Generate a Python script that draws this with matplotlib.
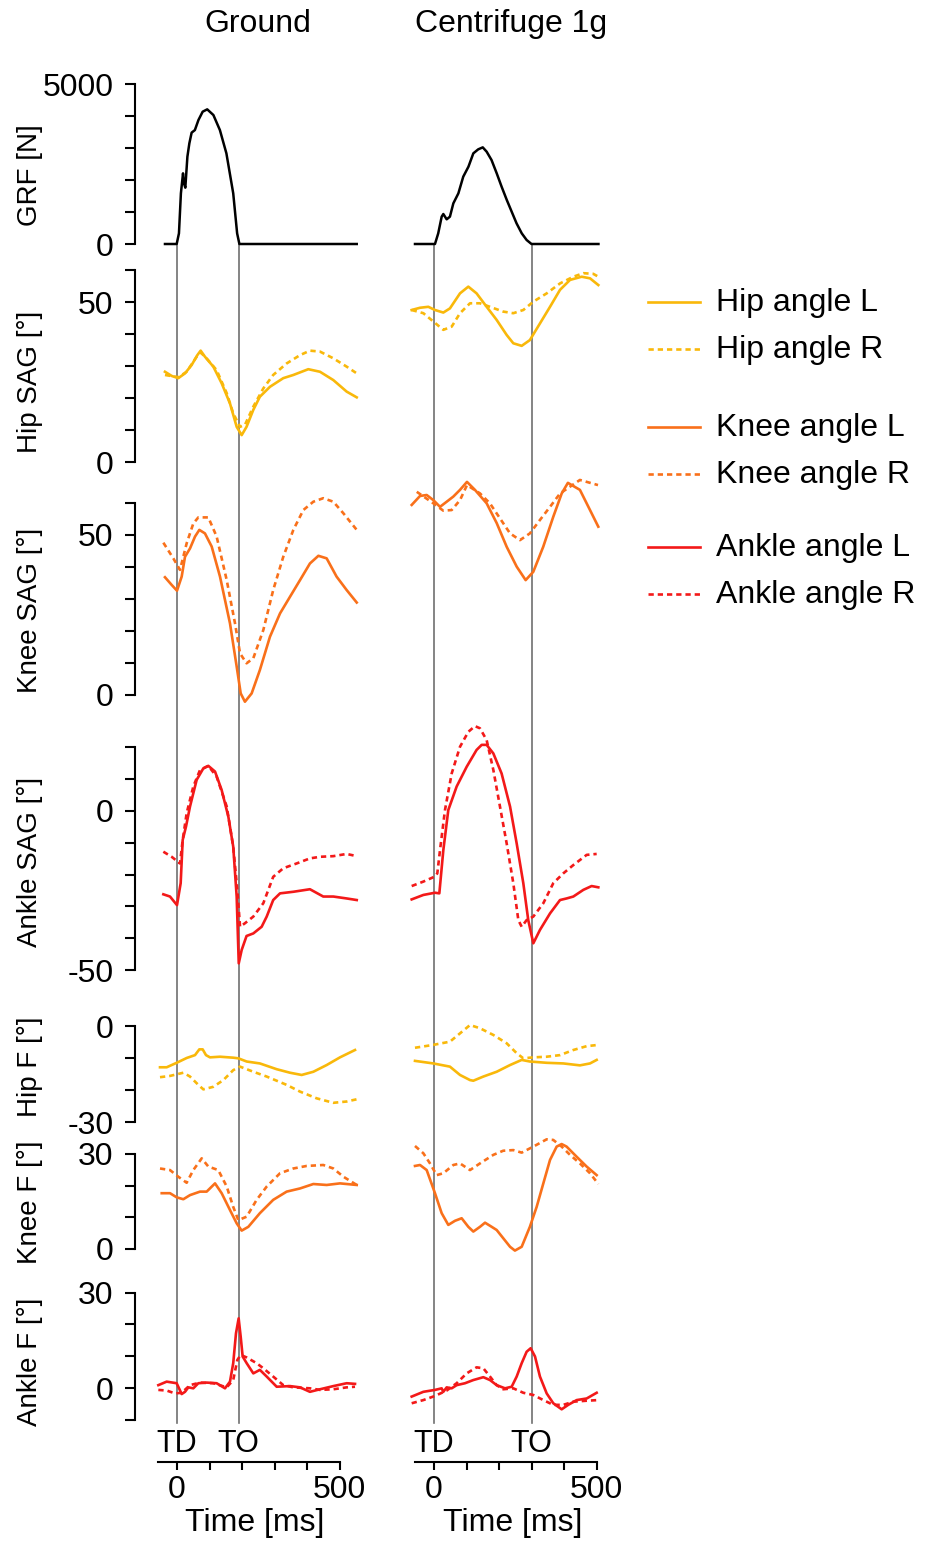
import numpy as np
import matplotlib
matplotlib.use("Agg")
import matplotlib.pyplot as plt
from matplotlib.lines import Line2D
from matplotlib.transforms import blended_transform_factory

plt.rcParams['font.family'] = ['Liberation Sans', 'DejaVu Sans']

# ---------------- data (time in ms) ----------------
TD = 0
TO_ground = 190
TO_centri = 300

# GRF [N]
grf_g_t = [-37, -1, 6, 12, 18.5, 21.5, 25.6, 32, 38, 45, 55, 66, 79, 93, 112, 132, 152, 173, 185, 192, 553]
grf_g_v = [0, 0, 333, 1583, 2208, 1895, 1760, 2730, 3145, 3480, 3560, 3875, 4135, 4208, 4030, 3560, 2833, 1583, 333, 0, 0]
grf_c_t = [-58.5, 3, 13, 23.6, 28.7, 39, 49, 59.5, 75, 90, 106, 121, 136, 150, 162, 177, 193, 208, 224, 239, 254, 270, 285, 300, 506]
grf_c_v = [0, 0, 333, 854, 937, 771, 854, 1270, 1583, 2104, 2416, 2833, 2958, 3020, 2885, 2625, 2208, 1792, 1375, 1010, 646, 333, 125, 0, 0]

# Hip sagittal [deg]
hipS_gL_t = [-37, -16.4, 4, 24.6, 45, 62.6, 72.8, 86, 111.8, 137.4, 163, 183.6, 199, 214, 234.8, 255, 286, 327, 358, 404, 440, 481, 522, 553]
hipS_gL_v = [28.2, 26.9, 26.2, 27.7, 30.3, 33.4, 34.8, 32.9, 29.8, 24.6, 18.3, 11.0, 8.4, 11.0, 16.3, 20.4, 23.5, 26.2, 27.2, 29.0, 28.2, 25.6, 22.0, 20.2]
hipS_gR_t = [-37, 4, 29.7, 60.5, 72.8, 91, 122, 153, 173, 194, 209, 234.8, 265.6, 296, 337.4, 378.5, 409, 440, 481, 522, 553]
hipS_gR_v = [27.2, 26.5, 28.2, 32.9, 34.2, 32.4, 28.7, 21.5, 15.2, 11.0, 11.6, 17.3, 23.0, 27.2, 30.8, 33.4, 34.8, 34.5, 32.4, 29.8, 27.7]
hipS_cL_t = [-68.7, -43, -17.4, 3, 28.7, 49, 80, 105.6, 131, 162, 192.8, 223.6, 244, 269.8, 295, 326, 357, 387.7, 418.5, 454.4, 480, 505.6]
hipS_cL_v = [47.5, 48.2, 48.5, 47.5, 46.7, 48.0, 52.7, 54.8, 52.7, 48.5, 44.4, 39.7, 37.1, 36.3, 38.1, 43.3, 48.5, 53.8, 56.9, 57.9, 57.4, 55.3]
hipS_cR_t = [-68.7, -32.8, -2, 28.7, 54.4, 80, 110.8, 141.5, 172, 213, 244, 274.8, 305.6, 346.7, 387.7, 428.7, 459.5, 490, 505.6]
hipS_cR_v = [47.5, 46.5, 43.9, 41.3, 42.3, 46.5, 49.6, 49.6, 48.5, 47.0, 46.5, 47.5, 50.1, 52.7, 55.8, 57.9, 59.0, 58.8, 57.9]

# Knee sagittal [deg]
kneeS_gL_t = [-37, -16.4, 0, 14.4, 24.6, 40, 55.4, 68.7, 86, 106.7, 132.3, 163, 183.6, 196, 209, 229.7, 255, 286, 317, 347.7, 378.5, 409, 435, 460.5, 491, 522, 553]
kneeS_gL_v = [36.8, 34.4, 32.6, 37.0, 43.2, 45.8, 49.5, 51.6, 50.5, 46.4, 37.0, 22.4, 8.9, 0.5, -2.1, 0.5, 7.8, 18.2, 25.5, 30.7, 35.9, 41.1, 43.5, 42.7, 37.0, 32.8, 28.9]
kneeS_gR_t = [-42, -11.3, 9.2, 29.7, 50.2, 65.6, 96.4, 122, 153, 178.5, 194, 214, 234.8, 265.6, 296, 327, 358, 388.7, 419.5, 450, 481, 511.8, 553]
kneeS_gR_v = [47.6, 42.7, 39.1, 47.4, 53.6, 55.5, 55.5, 49.5, 35.9, 22.4, 13.0, 9.9, 11.5, 20.3, 32.8, 43.2, 51.6, 57.8, 60.4, 61.5, 60.4, 56.8, 51.6]
kneeS_cL_t = [-68.6, -43, -22.5, -2, 18.5, 39, 59.4, 80, 101.5, 126, 162, 193, 223.7, 254.5, 282, 305.5, 336, 367, 393, 412, 449, 480, 505.5]
kneeS_cL_v = [59.4, 62.2, 62.5, 60.9, 58.8, 60.4, 62.0, 64.1, 66.6, 64.1, 59.9, 53.7, 46.3, 40.1, 35.9, 38.5, 46.3, 55.7, 63.0, 66.3, 64.1, 57.8, 52.6]
kneeS_cR_t = [-53, -2, 28.6, 54.5, 80, 101.5, 141.5, 172, 203, 234, 264.6, 295, 326, 357, 388, 449, 504.6]
kneeS_cR_v = [63.5, 59.9, 57.6, 57.8, 60.9, 65.6, 63.0, 59.9, 55.2, 50.5, 48.4, 50.5, 54.7, 58.8, 63.0, 67.2, 65.6]

# Ankle sagittal [deg]
ankS_gL_t = [-42, -21.5, 0, 11.3, 17.5, 27.7, 40, 60.5, 81, 96.4, 117, 137.4, 158, 173, 183.6, 190, 199, 214, 234.8, 260.5, 276, 296, 317, 358, 409, 450, 481, 522, 553]
ankS_gL_v = [-26.2, -26.9, -29.6, -22.7, -9.1, -4.9, 1.4, 9.8, 13.4, 14.2, 12.4, 6.6, -1.8, -11.2, -26.9, -47.9, -43.7, -39.3, -38.5, -36.4, -33.2, -28.0, -25.9, -25.4, -24.6, -26.9, -26.9, -27.5, -28.0]
ankS_gR_t = [-42, -16.4, 9.2, 17.5, 29.7, 50.2, 70.8, 96.4, 122, 153, 173, 185.6, 194, 209, 234.8, 265.6, 296, 327, 368, 409, 440, 481, 522, 553]
ankS_gR_v = [-12.8, -14.4, -16.5, -9.1, -0.7, 7.7, 12.9, 14.2, 10.8, 1.4, -11.2, -24.8, -36.4, -35.3, -33.2, -29.0, -20.7, -18.0, -16.5, -14.9, -14.4, -14.2, -13.5, -14.2]
ankS_cL_t = [-68.7, -32.8, 3, 16.4, 28.7, 44, 69.7, 100.5, 131, 146.7, 162, 182.6, 208, 234, 254.4, 274.8, 290, 305.6, 326, 357, 387.7, 408, 428.7, 459.5, 485, 505.6]
ankS_cL_v = [-27.8, -26.4, -25.7, -25.9, -12.3, 0.3, 7.7, 13.9, 19.2, 20.8, 20.8, 18.1, 11.8, 1.4, -10.2, -22.7, -34.3, -41.6, -37.4, -32.2, -28.0, -27.5, -26.9, -24.8, -23.6, -24.0]
ankS_cR_t = [-68.7, -32.8, 3, 10.2, 18.5, 33.8, 54.4, 80, 105.6, 126, 141.5, 162, 182.6, 203, 223.6, 244, 259.5, 269.8, 285, 305.6, 336.4, 367, 398, 428.7, 469.7, 500.5]
ankS_cR_v = [-23.6, -22.2, -20.6, -19.6, -12.3, 0.3, 11.8, 20.2, 24.9, 26.7, 26.0, 22.3, 12.9, 1.4, -10.2, -22.7, -34.3, -36.4, -34.3, -33.2, -29.0, -22.7, -19.6, -17.0, -13.8, -13.5]

# Hip frontal [deg]
hipF_gL_t = [-52.3, -31.8, -1, 29.7, 55.4, 68.7, 79, 89.2, 101.5, 132.3, 173, 188.7, 214.4, 255, 306.7, 347.7, 383.6, 419.5, 460.5, 501.5, 547.7]
hipF_gL_v = [-12.9, -12.9, -11.5, -10.0, -9.1, -7.3, -7.3, -9.1, -9.8, -9.6, -9.9, -10.1, -11.1, -11.7, -13.5, -14.6, -15.3, -14.3, -12.2, -9.8, -7.5]
hipF_gR_t = [-52.3, -21.5, 19.5, 40, 65.6, 81, 111.8, 142.6, 173, 194, 234.8, 276, 337.4, 378.5, 429.7, 481, 522, 553]
hipF_gR_v = [-16.0, -15.6, -14.6, -15.8, -18.4, -19.8, -19.0, -16.9, -13.8, -12.7, -14.3, -15.8, -18.4, -20.5, -22.6, -24.0, -23.6, -22.9]
hipF_cL_t = [-58.5, -2, 49, 80, 110.8, 121, 151.8, 192.8, 234, 269.8, 295, 346.7, 398, 449, 480, 500.5]
hipF_cL_v = [-10.9, -11.7, -12.7, -15.3, -16.9, -17.1, -15.8, -14.3, -12.2, -10.6, -11.1, -11.5, -11.7, -12.3, -11.7, -10.6]
hipF_cR_t = [-58.5, -2, 49, 80, 110.8, 141.5, 182.6, 223.6, 254.4, 274.8, 305.6, 346.7, 387.7, 428.7, 469.7, 505.6]
hipF_cR_v = [-6.8, -5.9, -4.9, -2.3, 0.3, -0.7, -2.8, -5.4, -8.5, -10.1, -9.8, -9.6, -9.1, -7.5, -6.3, -5.9]

# Knee frontal [deg]
kneeF_gL_t = [-47, -21.5, -1, 19.5, 40, 70.8, 91.3, 117, 137.4, 163, 183.6, 199, 219.5, 255, 296, 337.4, 378.5, 419.5, 460.5, 501.5, 553]
kneeF_gL_v = [17.6, 17.6, 16.3, 15.7, 17.0, 18.1, 18.1, 20.7, 17.6, 12.3, 8.1, 5.8, 7.0, 11.3, 15.5, 18.1, 19.1, 20.5, 20.2, 20.7, 20.2]
kneeF_gR_t = [-52.3, -21.5, 4, 29.7, 50.2, 76, 96.4, 127, 153, 173, 188.7, 214.4, 245, 276, 317, 358, 399, 450, 481, 512, 553]
kneeF_gR_v = [25.4, 24.9, 22.8, 20.9, 24.9, 28.6, 26.0, 24.9, 19.7, 13.3, 9.1, 10.2, 15.5, 19.7, 23.9, 25.4, 26.2, 26.5, 25.4, 22.8, 20.2]
kneeF_cL_t = [-58.5, -43, -22.5, 3, 23.6, 44, 64.6, 85.1, 105.6, 121, 141.5, 157, 177.4, 192.8, 213, 234, 249, 269.8, 295, 315.9, 336.4, 357, 377.4, 392.8, 408, 439, 469.7, 500.5]
kneeF_cL_v = [26.2, 26.5, 24.9, 17.6, 11.3, 7.6, 8.9, 9.7, 7.0, 5.5, 7.0, 8.3, 7.0, 6.0, 3.4, 0.7, -0.5, 0.7, 7.0, 13.3, 20.7, 28.1, 32.3, 33.1, 32.3, 29.1, 26.0, 23.3]
kneeF_cR_t = [-58.5, -32.8, -12.3, 8.2, 28.7, 59.5, 80, 110.8, 141.5, 182.6, 213, 244, 269.8, 305.6, 346.7, 367, 392.8, 418.5, 449, 480, 505.6]
kneeF_cR_v = [32.5, 30.2, 27.0, 23.3, 23.9, 26.5, 27.0, 24.9, 27.0, 29.7, 31.0, 31.2, 30.4, 32.3, 34.6, 34.4, 32.3, 29.7, 27.0, 23.9, 20.5]

# Ankle frontal [deg]
ankF_gL_t = [-57.4, -31.8, -1, 14.4, 24.6, 34.9, 50.2, 65.6, 91.3, 122, 147.7, 163, 173, 181.5, 189.7, 196, 202, 214.4, 234.8, 255, 276, 306.7, 347.7, 378.5, 409, 440, 481, 522, 547.7]
ankF_gL_v = [0.9, 2.0, 1.5, -1.9, -1.2, 0.2, -0.1, 1.5, 1.7, 1.5, -0.1, 2.0, 7.8, 17.2, 21.9, 16.1, 9.9, 7.8, 4.6, 5.7, 3.6, 0.4, 0.6, 0.2, -1.2, -0.4, 0.6, 1.5, 1.3]
ankF_gR_t = [-57.4, -31.8, -6.2, 14.4, 40, 70.8, 111.8, 153, 173, 185.6, 196, 214.4, 245, 265.6, 296, 327, 358, 409, 440, 481, 522, 547.7]
ankF_gR_v = [-0.6, -0.8, -1.7, -1.5, 0.9, 1.7, 1.5, 0.2, 2.5, 8.8, 10.4, 9.6, 7.8, 6.2, 3.6, 0.9, 0.2, -0.1, -0.6, -0.4, 0.2, 0.4]
ankF_cL_t = [-68.7, -32.8, 3, 23.6, 28.7, 39, 54.4, 69.7, 95.4, 121, 151.8, 172.3, 192.8, 218.5, 239, 254.4, 269.8, 285, 297.4, 310.8, 326, 346.7, 367, 392.8, 413, 439, 469.7, 500.5]
ankF_cL_v = [-2.7, -1.2, -0.6, -0.1, -1.2, 0.2, -0.1, 0.9, 1.5, 2.5, 3.4, 2.5, 0.9, -0.1, 0.4, 3.6, 7.8, 11.4, 12.5, 9.9, 3.6, -1.7, -4.8, -6.7, -5.3, -3.8, -3.3, -1.5]
ankF_cR_t = [-68.7, -32.8, 3, 39, 69.7, 100.5, 131, 151.8, 172.3, 192.8, 213, 244, 274.8, 305.6, 336.4, 367, 398, 428.7, 469.7, 505.6]
ankF_cR_v = [-4.8, -3.8, -2.5, -0.8, 1.5, 4.6, 6.5, 6.2, 3.6, 0.9, -0.4, -0.1, -1.5, -2.2, -3.8, -5.3, -5.3, -4.3, -4.0, -3.8]

# ---------------- styling ----------------
W, H = 930, 1542
FS = 23        # tick labels, legend, titles
FS_YLAB = 20   # y axis labels
HIP_C = '#F9B80A'
KNEE_C = '#F9701A'
ANK_C = '#F31919'
LW = 1.9
DASH = (2.0, 1.5)

fig = plt.figure(figsize=(W / 100, H / 100), dpi=100)

COLS = {
    'g': dict(x0=135, x1=370, zero=177),
    'c': dict(x0=400, x1=620, zero=434),
}
XS = 0.325  # px per ms


def make_ax(col, zero_px, scale, ylo, yhi):
    c = COLS[col]
    top = zero_px - yhi * scale
    bot = zero_px - ylo * scale
    ax = fig.add_axes([c['x0'] / W, 1 - bot / H, (c['x1'] - c['x0']) / W, (bot - top) / H])
    ax.set_facecolor('none')
    ax.set_ylim(ylo, yhi)
    ax.set_xlim((c['x0'] - c['zero']) / XS, (c['x1'] - c['zero']) / XS)
    for s in ['top', 'right', 'bottom']:
        ax.spines[s].set_visible(False)
    ax.set_xticks([])
    return ax


def style_y(ax, lo, hi, step, labels):
    ax.spines['left'].set_bounds(lo, hi)
    ax.spines['left'].set_linewidth(1.5)
    ticks = np.arange(lo, hi + step / 2, step)
    ax.set_yticks(ticks)
    ax.set_yticklabels([labels.get(int(t), '') for t in ticks])
    ax.tick_params(axis='y', direction='out', length=7.5, width=1.5, pad=8, labelsize=FS)


rows = [
    # name, zero_px, scale, ylim, spine bounds, step, labels, ylabel, ylabel_y
    ('grf', 244, 0.032, (-250, 5100), (0, 5000), 1000, {0: '0', 5000: '5000'}, 'GRF [N]', 175),
    ('hipS', 462, 3.2, (-3, 62), (0, 60), 10, {0: '0', 50: '50'}, 'Hip SAG [°]', 382),
    ('kneeS', 695, 3.2, (-4, 68), (0, 60), 10, {0: '0', 50: '50'}, 'Knee SAG [°]', 610),
    ('ankS', 811, 3.18, (-52, 28), (-50, 20), 10, {-50: '-50', 0: '0'}, 'Ankle SAG [°]', 862),
    ('hipF', 1026, 3.2, (-31, 2), (-30, 0), 10, {-30: '-30', 0: '0'}, 'Hip F [°]', 1067),
    ('kneeF', 1249, 3.17, (-2, 36), (0, 30), 10, {0: '0', 30: '30'}, 'Knee F [°]', 1202),
    ('ankF', 1388, 3.18, (-10, 30), (-10, 30), 10, {0: '0', 30: '30'}, 'Ankle F [°]', 1362),
]

series = {
    'grf': [('k', '-', grf_g_t, grf_g_v, grf_c_t, grf_c_v)],
    'hipS': [(HIP_C, '-', hipS_gL_t, hipS_gL_v, hipS_cL_t, hipS_cL_v),
             (HIP_C, '--', hipS_gR_t, hipS_gR_v, hipS_cR_t, hipS_cR_v)],
    'kneeS': [(KNEE_C, '-', kneeS_gL_t, kneeS_gL_v, kneeS_cL_t, kneeS_cL_v),
              (KNEE_C, '--', kneeS_gR_t, kneeS_gR_v, kneeS_cR_t, kneeS_cR_v)],
    'ankS': [(ANK_C, '-', ankS_gL_t, ankS_gL_v, ankS_cL_t, ankS_cL_v),
             (ANK_C, '--', ankS_gR_t, ankS_gR_v, ankS_cR_t, ankS_cR_v)],
    'hipF': [(HIP_C, '-', hipF_gL_t, hipF_gL_v, hipF_cL_t, hipF_cL_v),
             (HIP_C, '--', hipF_gR_t, hipF_gR_v, hipF_cR_t, hipF_cR_v)],
    'kneeF': [(KNEE_C, '-', kneeF_gL_t, kneeF_gL_v, kneeF_cL_t, kneeF_cL_v),
              (KNEE_C, '--', kneeF_gR_t, kneeF_gR_v, kneeF_cR_t, kneeF_cR_v)],
    'ankF': [(ANK_C, '-', ankF_gL_t, ankF_gL_v, ankF_cL_t, ankF_cL_v),
             (ANK_C, '--', ankF_gR_t, ankF_gR_v, ankF_cR_t, ankF_cR_v)],
}

for name, zero, scale, ylim, bounds, step, labels, ylab, ylab_y in rows:
    axg = make_ax('g', zero, scale, *ylim)
    axc = make_ax('c', zero, scale, *ylim)
    style_y(axg, bounds[0], bounds[1], step, labels)
    axc.spines['left'].set_visible(False)
    axc.set_yticks([])
    for color, ls, tg, vg, tc, vc in series[name]:
        for ax, t, v in [(axg, tg, vg), (axc, tc, vc)]:
            ln, = ax.plot(t, v, color=color, lw=LW if color != 'k' else 1.8,
                          solid_joinstyle='round', clip_on=False)
            if ls == '--':
                ln.set_dashes(DASH)
    fig.text(30 / W, 1 - ylab_y / H, ylab, rotation=90, ha='center', va='center', fontsize=FS_YLAB)

# bottom time axes with TD / TO markers
for col, to in [('g', TO_ground), ('c', TO_centri)]:
    c = COLS[col]
    ax = fig.add_axes([c['x0'] / W, 1 - 1462 / H, (c['x1'] - c['x0']) / W, 40 / H])
    ax.set_facecolor('none')
    ax.set_xlim((c['x0'] - c['zero']) / XS, (c['x1'] - c['zero']) / XS)
    for s in ['top', 'right', 'left']:
        ax.spines[s].set_visible(False)
    ax.spines['bottom'].set_bounds(-60, 500)
    ax.spines['bottom'].set_linewidth(1.5)
    ax.set_yticks([])
    ax.set_xticks(np.arange(0, 501, 100))
    ax.set_xticklabels(['0', '', '', '', '', '500'])
    ax.tick_params(axis='x', direction='out', length=6, width=1.5, pad=3, labelsize=FS)
    ax.text(TD, 0.45, 'TD', transform=ax.get_xaxis_transform(), ha='center', va='center', fontsize=22)
    ax.text(to, 0.45, 'TO', transform=ax.get_xaxis_transform(), ha='center', va='center', fontsize=22)
    tr = blended_transform_factory(ax.transData, fig.transFigure)
    for ev in [TD, to]:
        fig.add_artist(Line2D([ev, ev], [1 - 244 / H, 1 - 1423 / H], transform=tr,
                              color='#707070', lw=1.2, zorder=0))

fig.text(255 / W, 1 - 1523 / H, 'Time [ms]', ha='center', va='center', fontsize=FS)
fig.text(513 / W, 1 - 1523 / H, 'Time [ms]', ha='center', va='center', fontsize=FS)

# column titles
fig.text(258 / W, 1 - 24 / H, 'Ground', ha='center', va='center', fontsize=FS)
fig.text(511 / W, 1 - 24 / H, 'Centrifuge 1g', ha='center', va='center', fontsize=FS)

# legend
legend_items = [
    ('Hip angle L', HIP_C, '-', 302),
    ('Hip angle R', HIP_C, '--', 349),
    ('Knee angle L', KNEE_C, '-', 427),
    ('Knee angle R', KNEE_C, '--', 474),
    ('Ankle angle L', ANK_C, '-', 547),
    ('Ankle angle R', ANK_C, '--', 594),
]
for label, color, ls, ypx in legend_items:
    ln = Line2D([648 / W, 700 / W], [1 - ypx / H, 1 - ypx / H], transform=fig.transFigure,
                color=color, lw=LW)
    if ls == '--':
        ln.set_dashes(DASH)
    fig.add_artist(ln)
    fig.text(716 / W, 1 - (ypx + 1) / H, label, ha='left', va='center', fontsize=FS)

fig.savefig('out.png', dpi=100)
